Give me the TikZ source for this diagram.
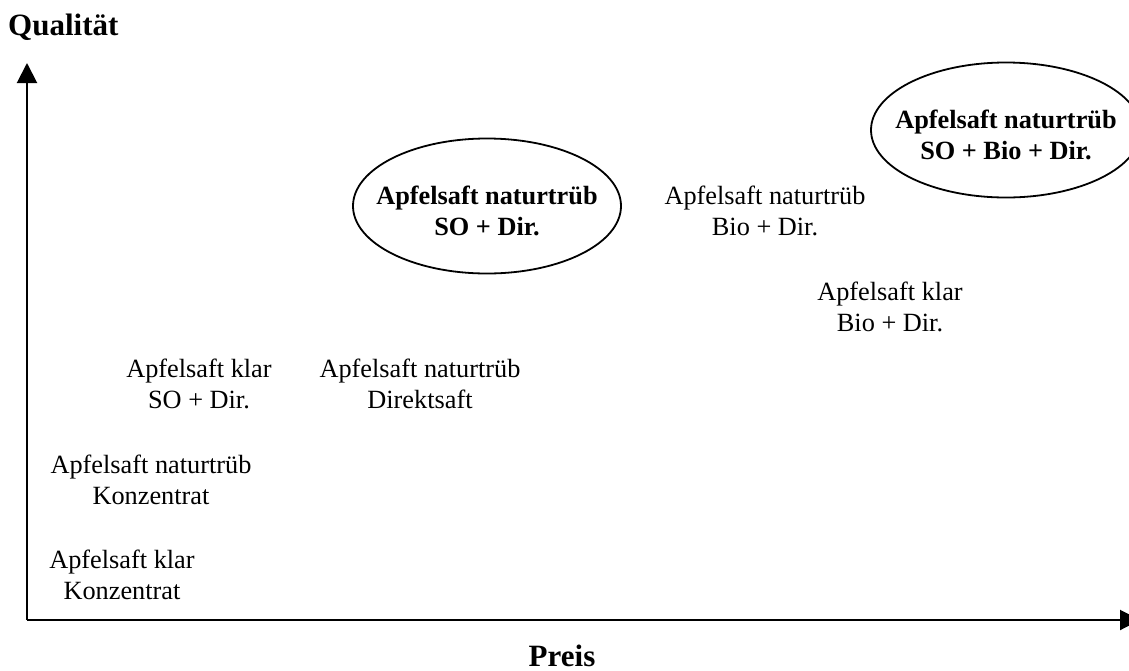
\documentclass[tikz,border=0pt]{standalone}
\usepackage{fontspec}
\setmainfont{Liberation Serif}
\usetikzlibrary{arrows.meta}
\begin{document}
\begin{tikzpicture}[x=1pt,y=-1pt,
  lbl/.style={align=center,inner sep=0pt,font=\fontsize{26.3}{31}\selectfont},
  hl/.style={align=center,inner sep=0pt,font=\fontsize{26.3}{31}\selectfont\bfseries},
  ring/.style={line width=1.8pt},
  axis/.style={line width=2pt,-{Triangle[length=20pt,width=20pt]}},
  title/.style={font=\fontsize{31}{36}\selectfont\bfseries,inner sep=0pt}]
\useasboundingbox (0,0) rectangle (1129,670);
\clip (0,0) rectangle (1129,670);
\coordinate (O) at (27,620);
\coordinate (Ytip) at (27,63);
\coordinate (Xtip) at (1140,620);
\draw[axis] (O) -- (Ytip);
\draw[axis] (O) -- (Xtip);
\node[title,anchor=base west] (qual) at (8,35) {Qualität};
\node[title,anchor=base] (preis) at (562,666) {Preis};
\node[hl] (e1) at (487,211) {Apfelsaft naturtrüb\\SO + Dir.};
\node[hl] (e2) at (1006,135) {Apfelsaft naturtrüb\\SO + Bio + Dir.};
\draw[ring] ([yshift=5pt]e1.center) ellipse [x radius=134, y radius=67.5];
\draw[ring] ([yshift=5pt]e2.center) ellipse [x radius=135, y radius=67.5];
\node[lbl] (n1) at (765,211) {Apfelsaft naturtrüb\\Bio + Dir.};
\node[lbl] (n2) at (890,307) {Apfelsaft klar\\Bio + Dir.};
\node[lbl] (n3) at (199,384) {Apfelsaft klar\\SO + Dir.};
\node[lbl] (n4) at (420,384) {Apfelsaft naturtrüb\\Direktsaft};
\node[lbl] (n5) at (151,480) {Apfelsaft naturtrüb\\Konzentrat};
\node[lbl] (n6) at (122,575) {Apfelsaft klar\\Konzentrat};
\end{tikzpicture}
\end{document}
